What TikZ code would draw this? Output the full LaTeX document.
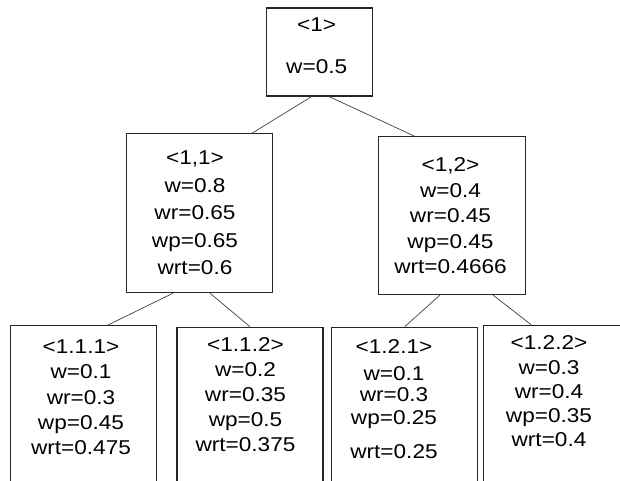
\documentclass[tikz,border=0pt]{standalone}
\usepackage{fontspec}
\setmainfont[FakeStretch=1.13]{Liberation Sans}
\begin{document}
\begin{tikzpicture}[x=1pt,y=-1pt,
    cell/.style={draw=black!85, line width=1.1pt, inner sep=0pt, minimum width=146pt},
    vals/.style={anchor=north, inner sep=0pt, align=center, font=\fontsize{20}{#1}\selectfont},
    vals/.default=25,
    edge/.style={draw=black!75, line width=0.7pt}]
  \useasboundingbox (0,0) rectangle (620,481);
  % boxes, the lowest row runs off the bottom
  \node[cell, minimum width=106pt, minimum height=88pt] (r) at (319.5,52) {};
  \node[cell, minimum height=158.7pt] (n11) at (199.3,213.3) {};
  \node[cell, minimum width=147pt, minimum height=158pt] (n12) at (452,215.5) {};
  \node[cell, anchor=north, minimum height=180pt] (n111) at (83.7,325) {};
  \node[cell, anchor=north, minimum height=180pt] (n112) at (250,326.7) {};
  \node[cell, anchor=north, minimum height=180pt] (n121) at (404.7,326.7) {};
  \node[cell, anchor=north, minimum height=180pt] (n122) at (556.5,325) {};
  % weights
  \node[vals=41.7] (r-t) at (316.7,17.8) {<1>\\w=0.5};
  \node[vals=27.5] (n11-t) at (195,150.8) {<1,1>\\w=0.8\\wr=0.65\\wp=0.65\\wrt=0.6};
  \node[vals=25.4] (n12-t) at (450.5,157.8) {<1,2>\\w=0.4\\wr=0.45\\wp=0.45\\wrt=0.4666};
  \node[vals=25.3] (n111-t) at (81,339.5) {<1.1.1>\\w=0.1\\wr=0.3\\wp=0.45\\wrt=0.475};
  \node[vals=25] (n112-t) at (245.5,337.8) {<1.1.2>\\w=0.2\\wr=0.35\\wp=0.5\\wrt=0.375};
  \node[vals=24] (n121-t) at (394,339.5) {<1.2.1>\\[3.3pt]w=0.1\\[-3pt]wr=0.3\\[-1pt]wp=0.25\\[9.7pt]wrt=0.25};
  \node[vals=24.2] (n122-t) at (549,335.8) {<1.2.2>\\w=0.3\\wr=0.4\\wp=0.35\\wrt=0.4};
  % tree edges
  \draw[edge] ([xshift=-7.8pt]r.south) -- ([xshift=52.4pt]n11.north);
  \draw[edge] ([xshift=9.5pt]r.south) -- ([xshift=-38pt]n12.north);
  \draw[edge] ([xshift=-26.3pt]n11.south) -- ([xshift=24.3pt]n111.north);
  \draw[edge] ([xshift=10.7pt]n11.south) -- (n112.north);
  \draw[edge] ([xshift=-12pt]n12.south) -- (n121.north);
  \draw[edge] ([xshift=41pt]n12.south) -- ([xshift=-25pt]n122.north);
\end{tikzpicture}
\end{document}
